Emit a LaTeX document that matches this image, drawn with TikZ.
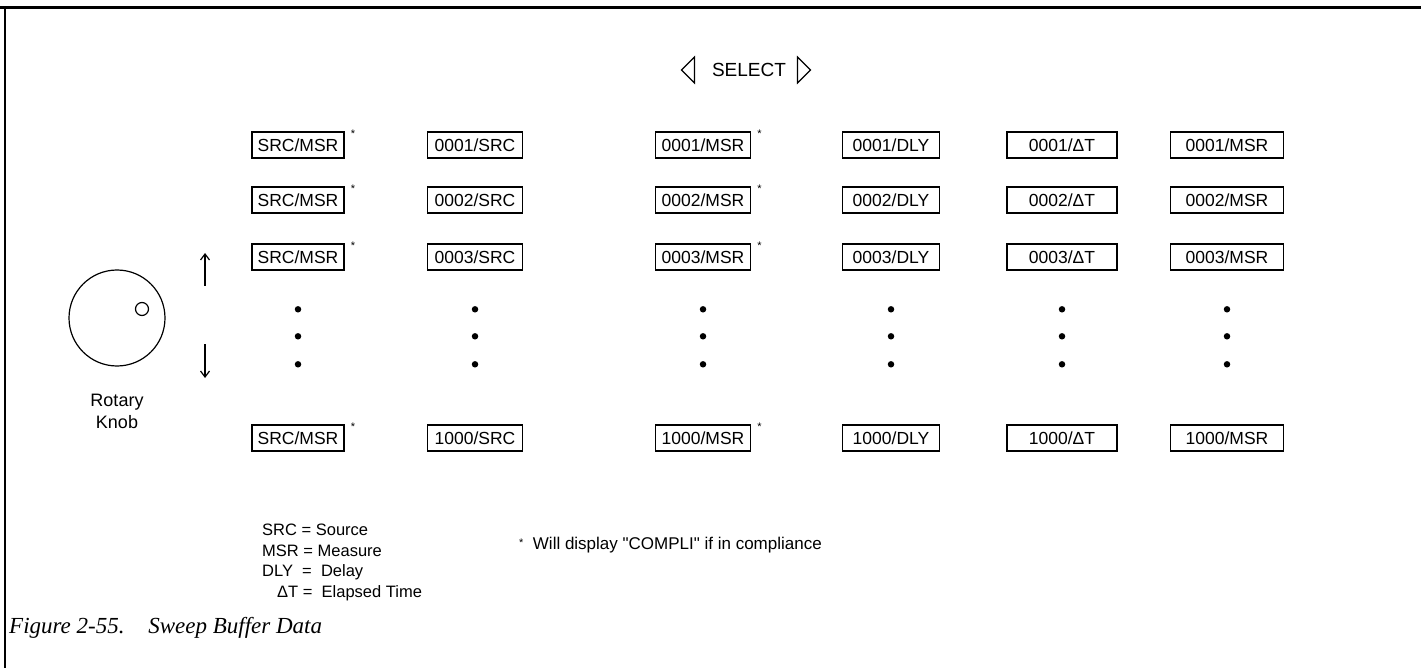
\documentclass[tikz,border=0pt]{standalone}
\usepackage{fontspec}
\setmainfont{Liberation Sans}
\newfontfamily\capfont{Liberation Serif}
\usetikzlibrary{positioning,arrows.meta}
\tikzset{
  dispbox/.style={
    draw,
    line width=1.4pt,
    minimum height=26pt,
    minimum width=92pt,
    inner sep=0pt,
    font=\fontsize{17.5}{19}\selectfont
  },
  compstar/.style={
    inner sep=0pt,
    font=\fontsize{11}{11}\selectfont
  },
  rowdot/.style={
    shape=circle,
    fill,
    inner sep=0pt,
    minimum size=6.5pt
  },
  legendtext/.style={
    anchor=west,
    inner sep=0pt,
    font=\fontsize{16.5}{18}\selectfont
  }
}

\begin{document}
\begin{tikzpicture}[x=1pt,y=-1pt]
    \useasboundingbox (0,0) rectangle (1421,668);
    % frame
    \draw[line width=3pt] (0,8) -- (1421,8);
    \draw[line width=1.5pt] (5,8) -- (5,668);

    % select header
    \node[font=\fontsize{19}{21}\selectfont] (select) at (749,70) {SELECT};
    \coordinate[left=14pt of select] (selL);
    \coordinate[right=8pt of select] (selR);
    \draw[line width=1.1pt] ([yshift=13pt]selL) -- ++(-13,13) -- ++(13,13) -- cycle;
    \draw[line width=1.1pt] ([yshift=13pt]selR) -- ++(13,13) -- ++(-13,13) -- cycle;

    % display rows
    \foreach \r/\y/\n in {1/145/0001,2/200/0002,3/257/0003,4/438/1000}{
        \node[dispbox] (b1\r) at (298,\y) {SRC/MSR};
        \node[compstar,above right=-6pt and 6pt of b1\r.north east] (s1\r) {*};
        \foreach \c/\x/\suf/\w in {2/475/SRC/95,3/703/MSR/95,4/891/DLY/97,5/1062/ΔT/110,6/1227/MSR/113}{
            \node[dispbox,minimum width=\w pt] (b\c\r) at (\x,\y) {\n/\suf};
        }
        \node[compstar,above right=-6pt and 6pt of b3\r.north east] (s3\r) {*};
    }

    % dots between row 3 and row 1000
    \foreach \c in {1,...,6}{
        \foreach \d/\dy in {1/115,2/88,3/60}{
            \node[rowdot] (d\c\d) at ([yshift=\dy pt]b\c4.north) {};
        }
    }

    % rotary knob
    \node[shape=circle,draw,line width=1.2pt,minimum size=96pt] (knob) at (117,318) {};
    \node[shape=circle,draw,line width=1.2pt,minimum size=13pt] (hole) at ([xshift=25pt,yshift=9pt]knob.center) {};
    \node[align=center,font=\fontsize{18}{22}\selectfont,below=24pt of knob] (knoblabel) {Rotary\\Knob};
    \coordinate (upA) at (205,286);
    \coordinate (upB) at (205,253);
    \coordinate (dnA) at (205,344);
    \coordinate (dnB) at (205,378);
    \draw[line width=1.2pt,-{Straight Barb[length=6pt,width=9pt]}] (upA) -- (upB);
    \draw[line width=1.2pt,-{Straight Barb[length=6pt,width=9pt]}] (dnA) -- (dnB);

    % legend
    \node[legendtext] (lsrc) at (262,530) {SRC = Source};
    \node[legendtext] (lmsr) at (262,551) {MSR = Measure};
    \node[legendtext] (ldly) at (262,572) {DLY \ = \ Delay};
    \node[legendtext] (ldt) at (277,593) {ΔT = \ Elapsed Time};
    \node[legendtext,font=\fontsize{17}{19}\selectfont] (note) at (519,545) {{\fontsize{11}{11}\selectfont\raisebox{3pt}{*}}\ \ Will display \textquotedbl COMPLI\textquotedbl\ if in compliance};

    \node[anchor=west,inner sep=0pt,font=\fontsize{23}{26}\selectfont\capfont\itshape] (caption) at (9,628) {Figure 2-55.\hspace{0.7em} Sweep Buffer Data};
\end{tikzpicture}
\end{document}
